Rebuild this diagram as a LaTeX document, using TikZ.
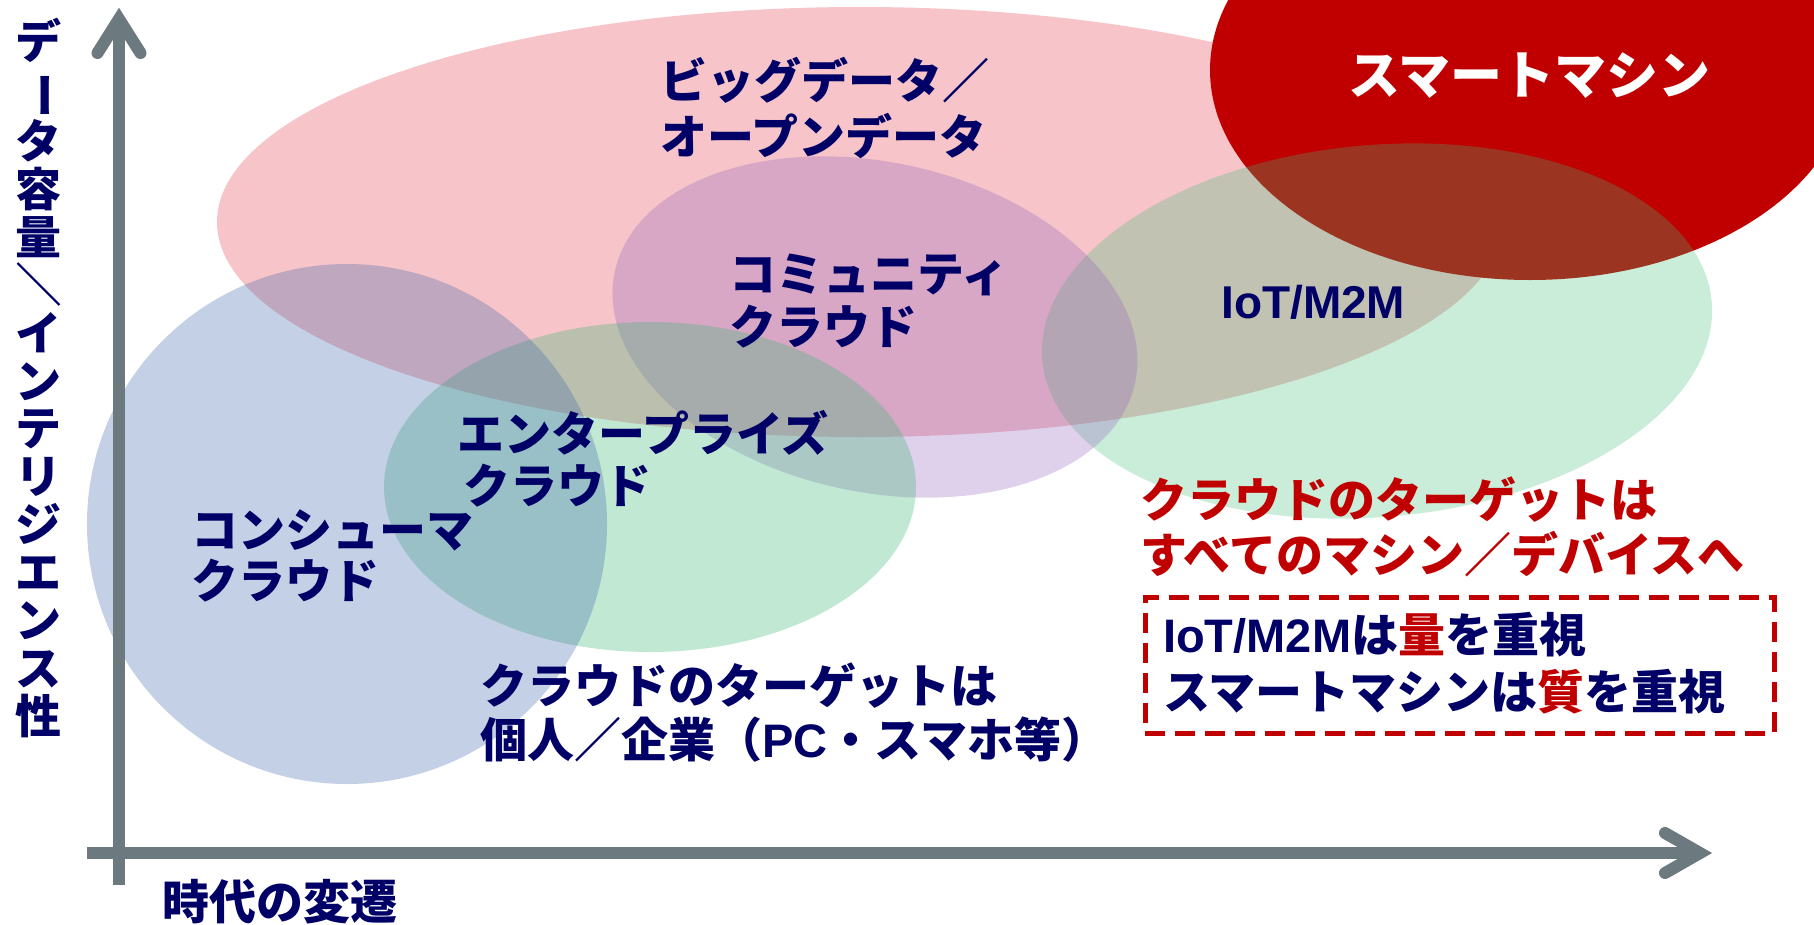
\documentclass[tikz,border=0pt]{standalone}
\usepackage{fontspec}
\usepackage{graphicx}
\usetikzlibrary{calc}
\newfontfamily\jp{Noto Sans CJK JP}
\newfontfamily\lat{Liberation Sans}
\definecolor{navy}{RGB}{0,0,102}
\definecolor{dred}{RGB}{192,0,0}
\definecolor{axisgray}{RGB}{108,122,128}
\definecolor{cred}{RGB}{225,60,75}
\definecolor{cblue}{RGB}{60,100,170}
\definecolor{cgreen}{RGB}{50,180,110}
\definecolor{clav}{RGB}{150,100,190}
\definecolor{ciot}{RGB}{60,190,120}
\newcommand{\rotch}[1]{\rotatebox[origin=c]{-90}{#1}}
\tikzset{
  lbl/.style={anchor=base west, inner sep=0pt, text=navy,
    font={\jp\bfseries\fontsize{47}{56}\selectfont}},
  redlbl/.style={lbl, text=dred},
  vlbl/.style={inner sep=0pt, text=navy, align=center,
    font={\jp\bfseries\fontsize{46}{47.86}\selectfont}},
  axisline/.style={line width=12pt, draw=axisgray},
  axishead/.style={line width=12pt, draw=axisgray, line cap=round, line join=miter},
  blob/.style={fill opacity=0.3},
  dashbox/.style={draw=dred, line width=5pt, dash pattern=on 20pt off 10pt, inner sep=0pt},
}
\begin{document}
\begin{tikzpicture}[x=1pt,y=-1pt]
\useasboundingbox (0,0) rectangle (1814,924);
\begin{scope}
  \clip (0,0) rectangle (1814,924);
  \fill[cred, blob] (860,222) ellipse [x radius=643, y radius=215];
  \fill[dred] (1530,70) ellipse [x radius=320, y radius=210];
  \fill[ciot, blob, fill opacity=0.28] (1377,331) ellipse [x radius=336, y radius=186, rotate=5];
  \fill[clav, blob] (875,327) ellipse [x radius=266, y radius=165, rotate=-12];
  \fill[cgreen, blob] (650,487) ellipse [x radius=266, y radius=165];
  \fill[cblue, blob] (347,524) ellipse [x radius=260, y radius=260];
\end{scope}
% axes
\coordinate (vbot) at (119,885);
\coordinate (vtip) at (119,19);
\coordinate (hleft) at (87,853);
\coordinate (htip) at (1700,853);
\draw[axisline] (vbot) -- (vtip);
\draw[axisline] (hleft) -- (htip);
\draw[axishead] ($(vtip)+(-21.5,34)$) -- (vtip) -- ($(vtip)+(21.5,34)$);
\draw[axishead] ($(htip)+(-35,-20)$) -- (htip) -- ($(htip)+(-35,20)$);
% dashed box
\node[dashbox, minimum width=629pt, minimum height=136pt] (box) at (1459.5,665) {};
% labels
\node[vlbl] (ylabel) at (39,378) {デ\\\rotch{ー}\\タ\\容\\量\\\rotch{／}\\イ\\ン\\テ\\リ\\ジ\\エ\\ン\\ス\\性};
\node[lbl] (tm) at (162,919) {時代の変遷};
\node[lbl] (bd1) at (660,98) {ビッグデータ／};
\node[lbl] (bd2) at (660,154) {オープンデータ};
\node[lbl] (cm1) at (729,291) {コミュニティ};
\node[lbl] (cm2) at (729,344) {クラウド};
\node[lbl, font={\lat\bfseries\fontsize{46}{56}\selectfont}] (iot) at (1221,318) {IoT/M2M};
\node[lbl] (en1) at (457,451) {エンタープライズ};
\node[lbl] (en2) at (463,503) {クラウド};
\node[lbl] (co1) at (191,547) {コンシューマ};
\node[lbl] (co2) at (191,598) {クラウド};
\node[lbl] (tg1) at (480,703) {クラウドのターゲットは};
\node[lbl] (tg2) at (480,757) {個人／企業（{\lat PC}・スマホ等）};
\node[redlbl] (rd1) at (1140,517) {クラウドのターゲットは};
\node[redlbl] (rd2) at (1140,572) {すべてのマシン／デバイスへ};
\node[lbl] (bx1) at (1163,652) {{\lat IoT/M2M}は\textcolor{dred}{量}を重視};
\node[lbl] (bx2) at (1163,709) {スマートマシンは\textcolor{dred}{質}を重視};
\node[lbl, text=white, font={\jp\bfseries\fontsize{52}{60}\selectfont}] (sm) at (1348,94) {スマートマシン};
\end{tikzpicture}
\end{document}
